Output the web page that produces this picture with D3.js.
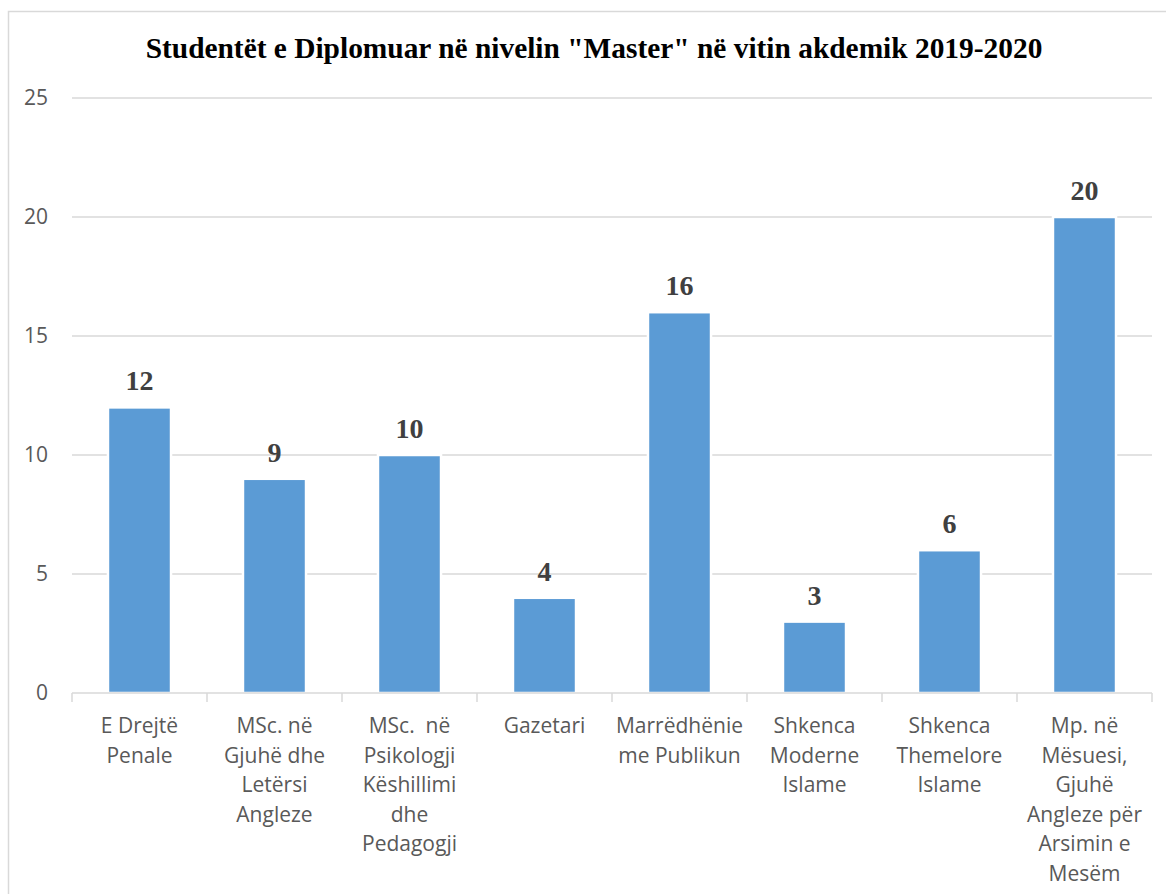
<!DOCTYPE html>
<html lang="sq">
<head>
  <meta charset="UTF-8">
  <title>Studentët e Diplomuar në nivelin "Master"</title>
  <script src="https://d3js.org/d3.v7.min.js"></script>
  <style>
    html, body { margin: 0; padding: 0; background: #fff; }
    svg { display: block; }
  </style>
</head>
<body>
  <svg width="1166" height="894"></svg>

  <script>
    // chart data
    const categories = [
      "E Drejtë Penale",
      "MSc. në Gjuhë dhe Letërsi Angleze",
      "MSc.  në Psikologji Këshillimi dhe Pedagogji",
      "Gazetari",
      "Marrëdhënie me Publikun",
      "Shkenca Moderne Islame",
      "Shkenca Themelore Islame",
      "Mp. në Mësuesi, Gjuhë Angleze për Arsimin e Mesëm"
    ];
    const values = [12, 9, 10, 4, 16, 3, 6, 20];
    const tickLabelLines = [
      ["E Drejtë", "Penale"],
      ["MSc. në", "Gjuhë dhe", "Letërsi", "Angleze"],
      ["MSc.  në", "Psikologji", "Këshillimi", "dhe", "Pedagogji"],
      ["Gazetari"],
      ["Marrëdhënie", "me Publikun"],
      ["Shkenca", "Moderne", "Islame"],
      ["Shkenca", "Themelore", "Islame"],
      ["Mp. në", "Mësuesi,", "Gjuhë", "Angleze për", "Arsimin e", "Mesëm"]
    ];
    const yTicks = [0, 5, 10, 15, 20, 25];
    const title = 'Studentët e Diplomuar në nivelin "Master" në vitin akdemik 2019-2020';

    const svg = d3.select("svg");
    const plotLeft = 72, plotRight = 1152, plotTop = 98, plotBottom = 693;

    // outer frame of the chart
    svg.append("rect")
      .attr("x", 8.5).attr("y", 11.5)
      .attr("width", 1200).attr("height", 1000)
      .attr("fill", "#fff")
      .attr("stroke", "#d9d9d9")
      .attr("stroke-width", 1.5);

    const x = d3.scaleBand()
      .domain(categories)
      .range([plotLeft, plotRight])
      .paddingInner(0.533)
      .paddingOuter(0.2665);

    const y = d3.scaleLinear()
      .domain([0, 25])
      .range([plotBottom, plotTop]);

    // gridlines
    svg.append("g")
      .selectAll("line")
      .data(yTicks.filter(d => d > 0))
      .join("line")
      .attr("x1", plotLeft).attr("x2", plotRight)
      .attr("y1", d => y(d)).attr("y2", d => y(d))
      .attr("stroke", "#d9d9d9")
      .attr("stroke-width", 1.5);

    // y tick labels
    svg.append("g")
      .selectAll("text")
      .data(yTicks)
      .join("text")
      .attr("x", 48)
      .attr("y", d => y(d))
      .attr("dy", "0.35em")
      .attr("text-anchor", "end")
      .attr("font-family", "'Open Sans', sans-serif")
      .attr("font-size", 21)
      .attr("fill", "#595959")
      .text(d => d);

    // bars (white edge breaks the gridlines like the original)
    svg.append("g")
      .selectAll("rect")
      .data(values)
      .join("rect")
      .attr("x", (d, i) => x(categories[i]))
      .attr("width", x.bandwidth())
      .attr("y", d => y(d))
      .attr("height", d => plotBottom - y(d))
      .attr("fill", "#5b9bd5")
      .attr("stroke", "#fff")
      .attr("stroke-width", 2.5);

    // x axis: line plus tick marks between categories
    const xAxis = svg.append("g");
    xAxis.append("line")
      .attr("x1", plotLeft).attr("x2", plotRight)
      .attr("y1", plotBottom).attr("y2", plotBottom)
      .attr("stroke", "#d9d9d9")
      .attr("stroke-width", 1.5);
    xAxis.selectAll(".tick")
      .data(d3.range(categories.length + 1))
      .join("line")
      .attr("class", "tick")
      .attr("x1", i => plotLeft + i * x.step())
      .attr("x2", i => plotLeft + i * x.step())
      .attr("y1", plotBottom).attr("y2", plotBottom + 9)
      .attr("stroke", "#d9d9d9")
      .attr("stroke-width", 1.5);

    // category labels, wrapped as in the original
    const catLabels = svg.append("g")
      .selectAll("text")
      .data(categories)
      .join("text")
      .attr("x", d => x(d) + x.bandwidth() / 2)
      .attr("y", plotBottom + 40)
      .attr("text-anchor", "middle")
      .attr("font-family", "'Open Sans', sans-serif")
      .attr("font-size", 21)
      .attr("fill", "#595959")
      .style("white-space", "pre");
    catLabels.each(function(d, i) {
      d3.select(this).selectAll("tspan")
        .data(tickLabelLines[i])
        .join("tspan")
        .attr("x", x(d) + x.bandwidth() / 2)
        .attr("dy", (t, j) => j === 0 ? 0 : 29.5)
        .text(t => t);
    });

    // value labels
    svg.append("g")
      .selectAll("text")
      .data(values)
      .join("text")
      .attr("x", (d, i) => x(categories[i]) + x.bandwidth() / 2)
      .attr("y", d => y(d) - 17)
      .attr("text-anchor", "middle")
      .attr("font-family", "'Liberation Serif', 'Times New Roman', serif")
      .attr("font-weight", "bold")
      .attr("font-size", 28)
      .attr("fill", "#404040")
      .text(d => d);

    // title
    svg.append("text")
      .attr("x", 594)
      .attr("y", 58)
      .attr("text-anchor", "middle")
      .attr("font-family", "'Liberation Serif', 'Times New Roman', serif")
      .attr("font-weight", "bold")
      .attr("font-size", 29.4)
      .attr("fill", "#000")
      .text(title);
  </script>
</body>
</html>
